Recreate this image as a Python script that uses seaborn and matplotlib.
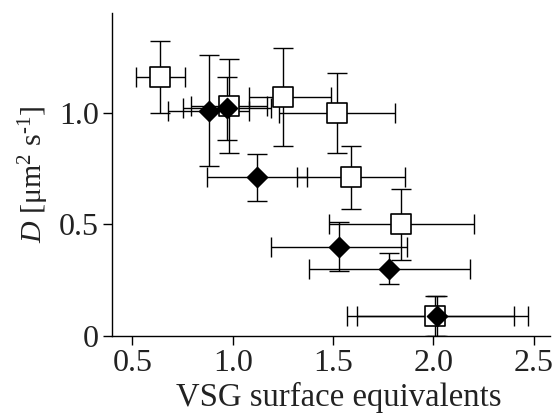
import matplotlib
matplotlib.use("Agg")
import matplotlib.pyplot as plt
import seaborn as sns
import numpy as np
import pandas as pd

# Open squares
sq_x = [0.64, 0.98, 1.25, 1.52, 1.59, 1.84, 2.01]
sq_y = [1.16, 1.03, 1.07, 1.00, 0.71, 0.50, 0.09]
sq_xerr_lo = [0.12, 0.19, 0.17, 0.29, 0.27, 0.36, 0.39]
sq_xerr_hi = [0.12, 0.19, 0.24, 0.29, 0.27, 0.36, 0.39]
sq_yerr = [0.16, 0.21, 0.22, 0.18, 0.14, 0.16, 0.09]

# Filled diamonds
dm_x = [0.88, 0.97, 1.12, 1.53, 1.78, 2.02]
dm_y = [1.01, 1.02, 0.71, 0.40, 0.30, 0.09]
dm_xerr = [0.20, 0.22, 0.25, 0.34, 0.40, 0.45]
dm_yerr = [0.25, 0.14, 0.105, 0.11, 0.07, 0.09]

x_ticks = [0.5, 1.0, 1.5, 2.0, 2.5]
x_ticklabels = ["0.5", "1.0", "1.5", "2.0", "2.5"]
y_ticks = [0, 0.5, 1.0]
y_ticklabels = ["0", "0.5", "1.0"]

sns.set_style("ticks")
plt.rcParams["font.family"] = ["Liberation Serif", "DejaVu Serif"]
plt.rcParams["mathtext.fontset"] = "custom"
plt.rcParams["mathtext.rm"] = "Liberation Serif"
plt.rcParams["mathtext.it"] = "Liberation Serif:italic"

fig = plt.figure(figsize=(5.53, 4.17), dpi=100)
ax = fig.add_axes([0.203, 0.195, 0.792, 0.774])

eb_kw = dict(fmt="none", ecolor="black", elinewidth=1.0, capsize=7.5, capthick=1.0, zorder=1)
ax.errorbar(sq_x, sq_y, xerr=[sq_xerr_lo, sq_xerr_hi], yerr=sq_yerr, **eb_kw)
ax.errorbar(dm_x, dm_y, xerr=dm_xerr, yerr=dm_yerr, **eb_kw)

df_sq = pd.DataFrame({"x": sq_x, "y": sq_y})
df_dm = pd.DataFrame({"x": dm_x, "y": dm_y})
sns.scatterplot(data=df_sq, x="x", y="y", marker="s", s=210, color="white",
                edgecolor="black", linewidth=1.2, ax=ax, zorder=3)
sns.scatterplot(data=df_dm, x="x", y="y", marker="D", s=106, color="black",
                edgecolor="black", linewidth=1.0, ax=ax, zorder=4)

ax.set_xlim(0.4, 2.582)
ax.set_ylim(0, 1.448)
ax.set_xticks(x_ticks)
ax.set_xticklabels(x_ticklabels)
ax.set_yticks(y_ticks)
ax.set_yticklabels(y_ticklabels)
ax.tick_params(axis="both", labelsize=23, length=6.5, width=1.0, color="black",
               labelcolor="#222222", pad=3)
for s in ["top", "right"]:
    ax.spines[s].set_visible(False)
for s in ["left", "bottom"]:
    ax.spines[s].set_linewidth(1.0)
    ax.spines[s].set_color("black")

ax.set_xlabel("VSG surface equivalents", fontsize=23.6, color="#222222")
ax.xaxis.set_label_coords(0.518, -0.218)
ax.xaxis.get_label().set_verticalalignment("baseline")
ax.set_ylabel("$\\mathit{D}$ [μm$^2$ s$^{\u2010 1}$]", fontsize=21.5, color="#222222", labelpad=6)

fig.savefig("out.png", dpi=100)
